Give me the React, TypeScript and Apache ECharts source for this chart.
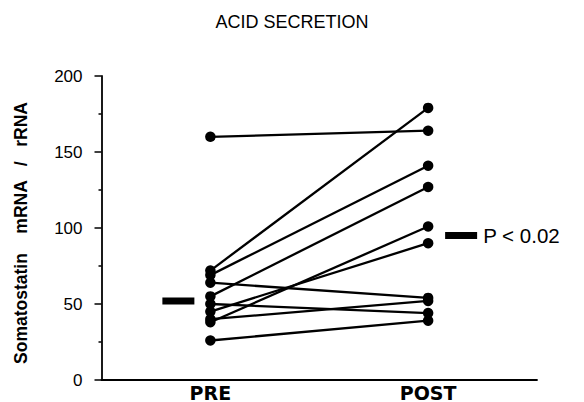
import React, { useEffect, useRef } from "react";
import * as echarts from "echarts";

// Paired measurements per subject, before and after acid secretion
const categories = ["PRE", "POST"];
const preValues = [160, 72, 69, 64, 55, 50, 45, 40, 38, 26];
const postValues = [164, 179, 141, 54, 127, 44, 90, 52, 101, 39];
// Group medians shown as thick bars beside each column
const medianValues = [52, 95];
const pLabel = "P < 0.02";
const yTicks = [0, 50, 100, 150, 200];

const FONT = "'Liberation Sans', Arial, Helvetica, sans-serif";
const WIDE_FONT = "'DejaVu Sans', 'Liberation Sans', Arial, sans-serif";

export default function App() {
  const ref = useRef<HTMLDivElement>(null);

  useEffect(() => {
    if (!ref.current) return;
    const chart = echarts.init(ref.current, undefined, { renderer: "svg" });

    const pairSeries = preValues.map((pre, i) => ({
      type: "line" as const,
      data: [pre, postValues[i]],
      symbol: "circle",
      symbolSize: 10.5,
      showSymbol: true,
      lineStyle: { color: "#000", width: 2.3 },
      itemStyle: { color: "#000", opacity: 1 },
      silent: true,
      z: 3,
    }));

    chart.setOption({
      animation: false,
      backgroundColor: "#fff",
      title: {
        text: "ACID SECRETION",
        left: "center",
        top: 8,
        textStyle: {
          fontFamily: FONT,
          fontSize: 18,
          fontWeight: "normal",
          color: "#000",
        },
      },
      grid: { left: 101.5, right: 47, top: 76, bottom: 22, containLabel: false },
      xAxis: {
        type: "category",
        data: categories,
        boundaryGap: true,
        axisLine: { show: true, lineStyle: { color: "#000", width: 1.8 } },
        axisTick: { show: false },
        axisLabel: {
          margin: 3,
          color: "#000",
          fontFamily: WIDE_FONT,
          fontWeight: "bold",
          fontSize: 19,
        },
        splitLine: { show: false },
      },
      yAxis: {
        type: "value",
        min: yTicks[0],
        max: yTicks[yTicks.length - 1],
        interval: 50,
        name: "Somatostatin    mRNA   /   rRNA",
        nameLocation: "middle",
        nameGap: 72,
        nameTextStyle: {
          fontFamily: FONT,
          fontWeight: "bold",
          fontSize: 17.5,
          color: "#000",
          padding: [0, 0, 0, -10],
        },
        axisLine: { show: true, lineStyle: { color: "#000", width: 1.8 } },
        axisTick: { show: true, inside: false, length: 7, lineStyle: { color: "#000", width: 1.5 } },
        minorTick: { show: true, splitNumber: 2, length: 3, lineStyle: { color: "#000", width: 1.5 } },
        axisLabel: {
          margin: 19,
          color: "#000",
          fontFamily: FONT,
          fontSize: 17,
        },
        splitLine: { show: false },
      },
      series: [
        ...pairSeries,
        {
          type: "scatter",
          symbol: "rect",
          symbolSize: [32, 7],
          itemStyle: { color: "#000", opacity: 1 },
          silent: true,
          z: 4,
          data: [
            { value: [0, medianValues[0]], symbolOffset: [-32, 0] },
            {
              value: [1, medianValues[1]],
              symbolOffset: [33, 0],
              label: {
                show: true,
                position: "right",
                distance: 6,
                formatter: pLabel,
                color: "#000",
                fontFamily: FONT,
                fontSize: 20.5,
              },
            },
          ],
        },
      ],
    });

    return () => chart.dispose();
  }, []);

  return <div ref={ref} style={{ width: 584, height: 402, position: "absolute", left: 0, top: 0 }} />;
}
